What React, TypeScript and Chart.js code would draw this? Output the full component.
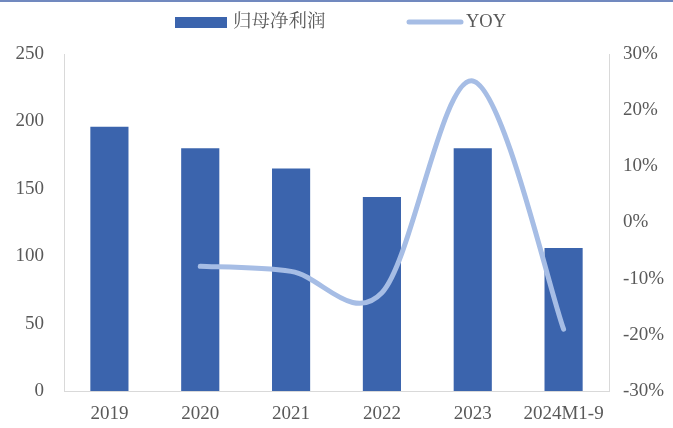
import React, { useEffect, useRef } from "react";
import { Chart, registerables } from "chart.js";

Chart.register(...registerables);

const categories = ["2019", "2020", "2021", "2022", "2023", "2024M1-9"];
const netProfit = [196, 180, 165, 144, 180, 106];
const yoy = [null, -7.8, -8.7, -12.5, 25.2, -19.0];
const leftTicks = [0, 50, 100, 150, 200, 250];
const rightTicks = [-30, -20, -10, 0, 10, 20, 30];

const BAR_COLOR = "#3B64AD";
const LINE_COLOR = "#A6BDE5";
const TEXT_COLOR = "#595959";
const AXIS_COLOR = "#D9D9D9";
const FONT_FAMILY = "'Liberation Serif', 'Noto Serif CJK SC', 'Noto Sans CJK SC', serif";

const excelSmooth = {
  id: "excelSmooth",
  beforeDatasetsDraw(chart: any) {
    chart.data.datasets.forEach((_ds: any, di: number) => {
      const meta = chart.getDatasetMeta(di);
      if (meta.type !== "line") return;
      const line = meta.dataset;
      if (line && line.updateControlPoints) line.updateControlPoints(chart.chartArea, "x");
      const pts = meta.data.filter((p: any) => !p.skip);
      pts.forEach((p: any, i: number) => {
        const prev = pts[i - 1] || p;
        const next = pts[i + 1] || p;
        const dx = (next.x - prev.x) / 6;
        const dy = (next.y - prev.y) / 6;
        p.cp1x = p.x - dx;
        p.cp1y = p.y - dy;
        p.cp2x = p.x + dx;
        p.cp2y = p.y + dy;
      });
    });
  },
};

const decor = {
  id: "decor",
  afterDraw(chart: any) {
    const ctx = chart.ctx;
    ctx.save();
    ctx.fillStyle = "#7189BF";
    ctx.fillRect(0, 0, chart.width, 2);
    // legend
    ctx.font = `18.5px ${FONT_FAMILY}`;
    ctx.textBaseline = "middle";
    ctx.fillStyle = BAR_COLOR;
    ctx.fillRect(175, 17, 52, 11);
    ctx.fillStyle = TEXT_COLOR;
    ctx.textAlign = "left";
    ctx.fillText("归母净利润", 233, 22);
    ctx.strokeStyle = LINE_COLOR;
    ctx.lineWidth = 5;
    ctx.lineCap = "round";
    ctx.beginPath();
    ctx.moveTo(409, 22);
    ctx.lineTo(461, 22);
    ctx.stroke();
    ctx.fillStyle = TEXT_COLOR;
    ctx.fillText("YOY", 466, 22);
    ctx.restore();
  },
};

export default function App() {
  const ref = useRef<HTMLCanvasElement | null>(null);
  useEffect(() => {
    document.body.style.margin = "0";
    const canvas = ref.current;
    if (!canvas) return;
    const chart = new Chart(canvas, {
      type: "bar",
      data: {
        labels: categories,
        datasets: [
          {
            type: "line",
            label: "YOY",
            data: yoy as any,
            yAxisID: "y1",
            borderColor: LINE_COLOR,
            backgroundColor: LINE_COLOR,
            borderWidth: 5,
            borderCapStyle: "round",
            borderJoinStyle: "round",
            pointRadius: 0,
            pointHoverRadius: 0,
            tension: 0.4,
            fill: false,
            order: 0,
          } as any,
          {
            type: "bar",
            label: "归母净利润",
            data: netProfit,
            yAxisID: "y",
            backgroundColor: BAR_COLOR,
            borderWidth: 0,
            barPercentage: 0.42,
            categoryPercentage: 1,
            order: 1,
          },
        ],
      },
      options: {
        animation: false,
        responsive: false,
        devicePixelRatio: 1,
        layout: { padding: { top: 54, bottom: 0, left: 0, right: 0 } },
        plugins: {
          legend: { display: false },
          tooltip: { enabled: false },
          title: { display: false },
        },
        scales: {
          x: {
            grid: { display: false, drawTicks: false },
            border: { display: true, color: AXIS_COLOR, width: 1 },
            ticks: {
              color: TEXT_COLOR,
              font: { family: FONT_FAMILY, size: 19 },
              padding: 12,
              maxRotation: 0,
              autoSkip: false,
            },
            afterFit: (s: any) => {
              s.height = 37;
            },
          },
          y: {
            position: "left",
            min: 0,
            max: 250,
            afterBuildTicks: (s: any) => {
              s.ticks = leftTicks.map((v) => ({ value: v }));
            },
            grid: { display: false, drawTicks: false },
            border: { display: true, color: AXIS_COLOR, width: 1 },
            ticks: {
              color: TEXT_COLOR,
              font: { family: FONT_FAMILY, size: 19 },
              padding: 20,
            },
            afterFit: (s: any) => {
              s.width = 64;
            },
          },
          y1: {
            position: "right",
            min: -30,
            max: 30,
            afterBuildTicks: (s: any) => {
              s.ticks = rightTicks.map((v) => ({ value: v }));
            },
            grid: { display: false, drawTicks: false },
            border: { display: true, color: AXIS_COLOR, width: 1 },
            ticks: {
              color: TEXT_COLOR,
              font: { family: FONT_FAMILY, size: 19 },
              padding: 14,
              callback: (v: any) => `${v}%`,
            },
            afterFit: (s: any) => {
              s.width = 64;
            },
          },
        },
      },
      plugins: [excelSmooth, decor],
    });
    return () => chart.destroy();
  }, []);
  return (
    <div style={{ width: 673, height: 428, background: "#fff" }}>
      <canvas ref={ref} width={673} height={428} style={{ display: "block" }} />
    </div>
  );
}
